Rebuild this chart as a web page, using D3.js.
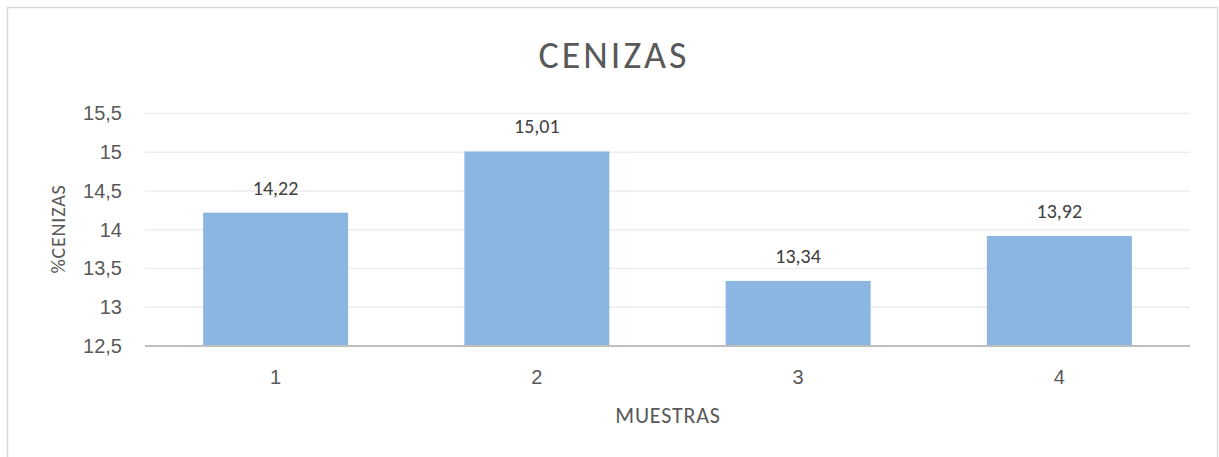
<!DOCTYPE html>
<html><head><meta charset="utf-8">
<script src="https://cdn.jsdelivr.net/npm/d3@7"></script>
<style>body{margin:0;background:#fff;}svg{display:block;font-family:Carlito,Calibri,"Open Sans","Liberation Sans",sans-serif;}</style>
</head><body><svg id="c" width="1219" height="457"></svg>
<script>
const categories = ["1","2","3","4"];
const values = [14.22, 15.01, 13.34, 13.92];
const yTicks = [12.5, 13, 13.5, 14, 14.5, 15, 15.5];
const title = "CENIZAS";
const xTitle = "MUESTRAS";
const yTitle = "%CENIZAS";

const svg = d3.select("#c");
const fmt = v => String(v).replace(".", ",");
// chart border
svg.append("rect").attr("x",7.5).attr("y",7.5).attr("width",1210).attr("height",460)
  .attr("fill","none").attr("stroke","#d9d9d9").attr("stroke-width",1.5);

const pLeft = 145, pRight = 1190, pTop = 113.5, pBottom = 346;
const x = d3.scaleBand().domain(categories).range([pLeft, pRight]).paddingInner(0.445).paddingOuter(0.2225);
const y = d3.scaleLinear().domain([12.5, 15.5]).range([pBottom, pTop]);

// gridlines
svg.append("g").selectAll("line").data(yTicks.slice(1)).join("line")
  .attr("x1",pLeft).attr("x2",pRight).attr("y1",d=>y(d)).attr("y2",d=>y(d))
  .attr("stroke","#ededed").attr("stroke-width",1.3);

// y axis labels
const yAxis = d3.axisLeft(y).tickValues(yTicks).tickFormat(fmt).tickSize(0).tickPadding(0);
const gy = svg.append("g").attr("transform",`translate(${pLeft-23},0)`).call(yAxis);
gy.select(".domain").remove();
gy.selectAll("text").attr("font-size",20).attr("fill","#595959").attr("font-family","inherit");

// bars
svg.append("g").selectAll("rect").data(values).join("rect")
  .attr("x",(d,i)=>x(categories[i])).attr("width",x.bandwidth())
  .attr("y",d=>y(d)).attr("height",d=>pBottom-y(d))
  .attr("fill","#8cb6e2");

// data labels
svg.append("g").selectAll("text").data(values).join("text")
  .attr("x",(d,i)=>x(categories[i])+x.bandwidth()/2).attr("y",d=>y(d)-18)
  .attr("text-anchor","middle").attr("font-size",20).attr("fill","#404040")
  .text(d=>d.toFixed(2).replace(".", ","));

// x axis
const xAxis = d3.axisBottom(x).tickSize(0).tickPadding(24);
const gx = svg.append("g").attr("transform",`translate(0,${pBottom})`).call(xAxis);
gx.select(".domain").attr("stroke","#bfbfbf").attr("stroke-width",2.2).attr("d",`M${pLeft},0H${pRight}`);
gx.selectAll("text").attr("font-size",20).attr("fill","#595959").attr("font-family","inherit");

// titles
svg.append("text").attr("x",614).attr("y",68).attr("text-anchor","middle")
  .attr("font-size",38).attr("font-weight",300).attr("fill","#595959").attr("letter-spacing",3).text(title);
svg.append("text").attr("x",668).attr("y",423).attr("text-anchor","middle")
  .attr("font-size",22).attr("fill","#595959").attr("letter-spacing",0.8).text(xTitle);
svg.append("text").attr("transform","translate(65,229) rotate(-90)").attr("text-anchor","middle")
  .attr("font-size",20).attr("fill","#595959").attr("letter-spacing",0.8).text(yTitle);
</script></body></html>
